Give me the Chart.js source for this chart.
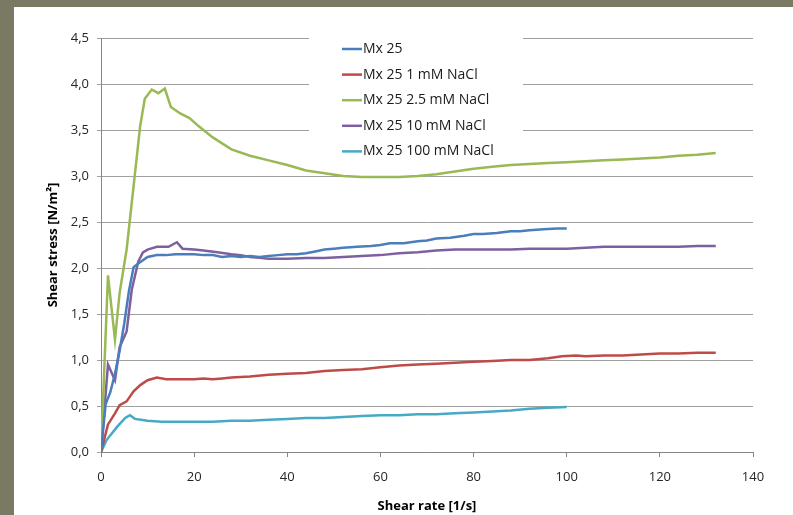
<!DOCTYPE html>
<html>
<head>
<meta charset="utf-8">
<script src="https://cdn.jsdelivr.net/npm/chart.js@4/dist/chart.umd.min.js"></script>
<style>
  html, body { margin: 0; padding: 0; background: #7a7a64; width: 793px; height: 515px; overflow: hidden; }
  #wrap { position: absolute; left: 14px; top: 7px; width: 779px; height: 508px; background: #fff; }
</style>
</head>
<body>
<div id="wrap"><canvas id="shearChart"></canvas></div>
<script>
// shear rate [1/s] and shear stress [N/m²]
const mx25X = [0,1,2,3,4,5,6,7,8,10,12,14,16,18,20,22,24,26,28,30,32,34,36,38,40,42,44,46,48,50,52,55,58,60,62,65,68,70,72,75,78,80,82,85,88,90,92,95,98,100];
const mx25Y = [0,0.52,0.65,0.85,1.1,1.4,1.75,2.01,2.05,2.12,2.14,2.14,2.15,2.15,2.15,2.14,2.14,2.12,2.13,2.12,2.13,2.12,2.13,2.14,2.15,2.15,2.16,2.18,2.2,2.21,2.22,2.23,2.24,2.25,2.27,2.27,2.29,2.3,2.32,2.33,2.35,2.37,2.37,2.38,2.4,2.4,2.41,2.42,2.43,2.43];

const nacl1X = [0,1.5,3,4,5.5,7,8.5,10,12,14,16,18,20,22,24,26,28,32,36,40,44,48,52,56,60,64,68,72,76,80,84,88,92,96,99,102,104,108,112,116,120,124,128,132];
const nacl1Y = [0,0.3,0.42,0.51,0.55,0.66,0.73,0.78,0.81,0.79,0.79,0.79,0.79,0.8,0.79,0.8,0.81,0.82,0.84,0.85,0.86,0.88,0.89,0.9,0.92,0.94,0.95,0.96,0.97,0.98,0.99,1.0,1.0,1.02,1.04,1.05,1.04,1.05,1.05,1.06,1.07,1.07,1.08,1.08];

const nacl25X = [0,1.5,3,4,5.5,7.3,8.4,9.4,10.9,12.3,13.7,15,17,19,21,24,28,32,36,40,44,48,52,56,60,64,68,72,76,80,84,88,92,96,100,104,108,112,116,120,124,128,132];
const nacl25Y = [0,1.92,1.22,1.73,2.2,3.03,3.54,3.84,3.94,3.9,3.95,3.75,3.68,3.63,3.54,3.42,3.29,3.22,3.17,3.12,3.06,3.03,3.0,2.99,2.99,2.99,3.0,3.02,3.05,3.08,3.1,3.12,3.13,3.14,3.15,3.16,3.17,3.18,3.19,3.2,3.22,3.23,3.25];

const nacl10X = [0,1.5,3,4,5.5,6.6,8,9,10,12,14.5,16.3,17.5,20,22,25,28,30,32,34,36,38,40,44,48,52,56,60,64,68,72,76,80,84,88,92,96,100,104,108,112,116,120,124,128,132];
const nacl10Y = [0,0.95,0.78,1.14,1.31,1.76,2.07,2.17,2.2,2.23,2.23,2.28,2.21,2.2,2.19,2.17,2.15,2.14,2.12,2.11,2.1,2.1,2.1,2.11,2.11,2.12,2.13,2.14,2.16,2.17,2.19,2.2,2.2,2.2,2.2,2.21,2.21,2.21,2.22,2.23,2.23,2.23,2.23,2.23,2.24,2.24];

const nacl100X = [0,1.2,3.4,5.2,6.2,7.3,10,13,16,20,24,28,32,36,40,44,48,52,56,60,64,68,72,76,80,84,88,92,96,100];
const nacl100Y = [0,0.13,0.27,0.37,0.4,0.36,0.34,0.33,0.33,0.33,0.33,0.34,0.34,0.35,0.36,0.37,0.37,0.38,0.39,0.4,0.4,0.41,0.41,0.42,0.43,0.44,0.45,0.47,0.48,0.49];

const seriesNames = ['Mx 25', 'Mx 25 1 mM NaCl', 'Mx 25 2.5 mM NaCl', 'Mx 25 10 mM NaCl', 'Mx 25 100 mM NaCl'];
const seriesColors = ['#4a7ebb', '#be4b48', '#98b954', '#7d60a0', '#46aac5'];
const xTicks = [0, 20, 40, 60, 80, 100, 120, 140];
const yTicks = [0, 0.5, 1, 1.5, 2, 2.5, 3, 3.5, 4, 4.5];

const xs = [mx25X, nacl1X, nacl25X, nacl10X, nacl100X];
const ys = [mx25Y, nacl1Y, nacl25Y, nacl10Y, nacl100Y];

const datasets = seriesNames.map((name, i) => ({
  label: name,
  data: xs[i].map((x, j) => ({ x: x, y: ys[i][j] })),
  borderColor: seriesColors[i],
  backgroundColor: seriesColors[i],
  borderWidth: 2.5,
  pointRadius: 0,
  tension: 0,
  fill: false
}));

// legend box sits on top of the plot area, white behind it
const insideLegend = {
  id: 'insideLegend',
  afterDatasetsDraw(chart) {
    const ctx = chart.ctx;
    ctx.save();
    ctx.fillStyle = '#ffffff';
    ctx.fillRect(295, 20, 214, 133);
    ctx.font = '14px "Open Sans"';
    ctx.textBaseline = 'middle';
    chart.data.datasets.forEach((ds, i) => {
      const y = 42 + i * 25.6;
      ctx.strokeStyle = ds.borderColor;
      ctx.lineWidth = 2.5;
      ctx.beginPath();
      ctx.moveTo(328, y);
      ctx.lineTo(348, y);
      ctx.stroke();
      ctx.fillStyle = '#1a1a1a';
      ctx.fillText(ds.label, 349, y);
    });
    ctx.restore();
  }
};

const ctx = document.getElementById('shearChart').getContext('2d');
new Chart(ctx, {
  type: 'line',
  data: { datasets: datasets },
  options: {
    responsive: true,
    maintainAspectRatio: false,
    animation: false,
    layout: { padding: { top: 31, right: 40, left: 0, bottom: 0 } },
    plugins: { legend: { display: false }, tooltip: { enabled: false } },
    scales: {
      x: {
        type: 'linear',
        min: 0,
        max: 140,
        afterBuildTicks: s => { s.ticks = xTicks.map(v => ({ value: v })); },
        afterFit: s => { s.height = 63; },
        border: { color: '#868686', width: 1 },
        grid: { drawOnChartArea: false, drawTicks: true, tickLength: 5, color: '#868686' },
        ticks: { padding: 12, color: '#262626', font: { family: 'Open Sans', size: 13 } },
        title: {
          display: true,
          text: 'Shear rate [1/s]',
          color: '#000',
          font: { family: 'Open Sans', size: 13, weight: 'bold' },
          padding: { top: 0, bottom: 1 }
        }
      },
      y: {
        min: 0,
        max: 4.5,
        afterBuildTicks: s => { s.ticks = yTicks.map(v => ({ value: v })); },
        afterFit: s => { s.width = 87; },
        border: { color: '#868686', width: 1 },
        grid: { color: '#a0a0a0', lineWidth: 1, tickLength: 4 },
        ticks: {
          padding: 8,
          color: '#262626',
          font: { family: 'Open Sans', size: 13 },
          callback: v => v.toFixed(1).replace('.', ',')
        },
        title: {
          display: true,
          text: 'Shear stress [N/m²]',
          color: '#000',
          font: { family: 'Open Sans', size: 13, weight: 'bold' },
          padding: { top: 31, bottom: 0 }
        }
      }
    }
  },
  plugins: [insideLegend]
});
</script>
</body>
</html>
